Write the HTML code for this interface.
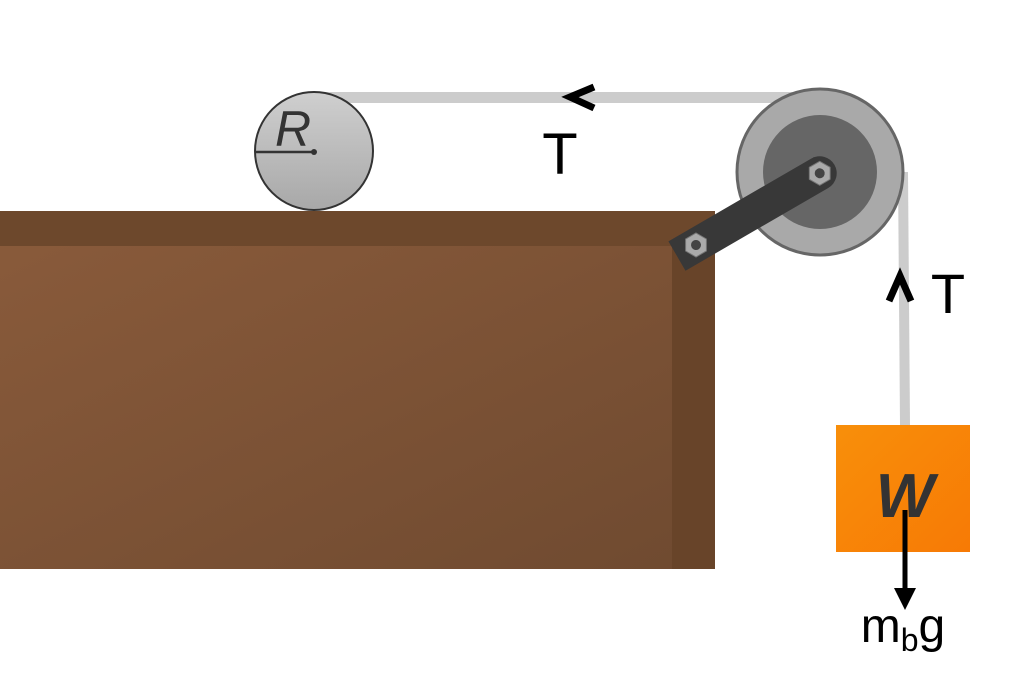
<!DOCTYPE html>
<html><head><meta charset="utf-8"><style>html,body{margin:0;padding:0;background:#fff}svg{display:block}</style></head>
<body>
<svg width="1024" height="682" viewBox="0 0 1024 682" xmlns="http://www.w3.org/2000/svg">
<defs>
<linearGradient id="tb" x1="0" y1="0" x2="1" y2="1"><stop offset="0" stop-color="#8a5b3b"/><stop offset="1" stop-color="#6f4a30"/></linearGradient>
<linearGradient id="wh" x1="0" y1="0" x2="0" y2="1"><stop offset="0" stop-color="#cfcfcf"/><stop offset="1" stop-color="#a8a8a8"/></linearGradient>
<linearGradient id="or" x1="0" y1="0" x2="1" y2="1"><stop offset="0" stop-color="#f88f0a"/><stop offset="1" stop-color="#f77a05"/></linearGradient>
</defs>
<rect x="314" y="92" width="506" height="11" fill="#cccccc"/>
<polygon points="898,172 908,172 910,425 900,425" fill="#cccccc"/>
<rect x="0" y="211" width="715" height="358" fill="url(#tb)"/>
<rect x="672" y="246" width="43" height="323" fill="#684429"/>
<rect x="0" y="211" width="715" height="35" fill="#6d482c"/>
<circle cx="314" cy="151" r="59" fill="url(#wh)" stroke="#333" stroke-width="2"/>
<line x1="256" y1="152" x2="314" y2="152" stroke="#333" stroke-width="2.5"/>
<circle cx="314" cy="152" r="3" fill="#333"/>
<text x="293" y="146" font-family="Liberation Sans, sans-serif" font-style="italic" font-size="50" fill="#333" text-anchor="middle">R</text>
<circle cx="820" cy="172" r="83" fill="#a9a9a9" stroke="#666" stroke-width="3"/>
<circle cx="820" cy="172" r="57" fill="#666"/>
<g transform="translate(696,245) rotate(-30.1)">
<path d="M-22,-17 H143 A17,17 0 0 1 143,17 H-22 Z" fill="#383838"/>
<polygon points="-12,0 -6,-10.4 6,-10.4 12,0 6,10.4 -6,10.4" fill="#aaa" stroke="#777" stroke-width="1"/>
<circle cx="0" cy="0" r="5" fill="#444"/>
<polygon points="131,0 137,-10.4 149,-10.4 155,0 149,10.4 137,10.4" fill="#aaa" stroke="#777" stroke-width="1"/>
<circle cx="143" cy="0" r="5" fill="#444"/>
</g>
<rect x="836" y="425" width="134" height="127" fill="url(#or)"/>
<text x="905" y="517" font-family="Liberation Sans, sans-serif" font-style="italic" font-weight="bold" font-size="62" fill="#333" text-anchor="middle">W</text>
<line x1="905" y1="510" x2="905" y2="590" stroke="#000" stroke-width="5"/>
<polygon points="894,588 916,588 905,610" fill="#000"/>
<text x="903" y="642" font-family="Liberation Sans, sans-serif" font-size="48" fill="#000" text-anchor="middle">m<tspan font-size="32" dy="9">b</tspan><tspan dy="-9">g</tspan></text>
<polyline points="594,87 570,97 594,108" fill="none" stroke="#000" stroke-width="7"/>
<text x="560" y="174" font-family="Liberation Sans, sans-serif" font-size="58" fill="#000" text-anchor="middle">T</text>
<polyline points="889,301 900,276 911,301" fill="none" stroke="#000" stroke-width="7"/>
<text x="948" y="313" font-family="Liberation Sans, sans-serif" font-size="56" fill="#000" text-anchor="middle">T</text>
</svg>
</body></html>
